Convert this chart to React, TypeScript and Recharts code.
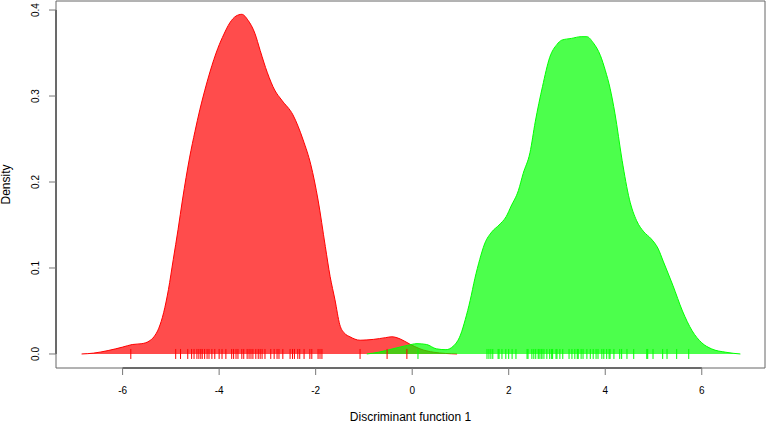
import React from "react";
import {
  ComposedChart,
  Area,
  Scatter,
  XAxis,
  YAxis,
  ReferenceArea,
  ReferenceLine,
} from "recharts";

// density estimate of group 1 (red)
const redX = [
  -6.85, -6.6, -6.3, -6.0, -5.8, -5.6, -5.45, -5.35, -5.25, -5.15, -5.05, -4.95,
  -4.85, -4.76, -4.61, -4.5, -4.4, -4.3, -4.19, -4.03, -3.9, -3.78, -3.65, -3.53,
  -3.4, -3.26, -3.15, -3.0, -2.85, -2.7, -2.47, -2.26, -2.1, -1.95, -1.8, -1.7,
  -1.6, -1.5, -1.4, -1.29, -1.08, -0.8, -0.55, -0.42, -0.25, -0.05, 0.16, 0.45, 0.93,
];
const redY = [
  0, 0.001, 0.004, 0.008, 0.011, 0.012, 0.015, 0.02, 0.03, 0.048, 0.075, 0.11,
  0.145, 0.179, 0.229, 0.259, 0.284, 0.306, 0.328, 0.355, 0.372, 0.385, 0.393, 0.395,
  0.388, 0.373, 0.353, 0.327, 0.307, 0.295, 0.278, 0.249, 0.22, 0.179, 0.125, 0.09,
  0.063, 0.034, 0.024, 0.02, 0.016, 0.017, 0.019, 0.02, 0.0175, 0.0115, 0.006, 0.002, 0,
];

// density estimate of group 2 (green)
const greenX = [
  -0.94, -0.7, -0.4, -0.1, 0.1, 0.3, 0.5, 0.7, 0.85, 1.0, 1.1, 1.2, 1.3, 1.4, 1.5,
  1.65, 1.8, 1.95, 2.05, 2.2, 2.3, 2.44, 2.55, 2.7, 2.85, 3.0, 3.1, 3.3, 3.5, 3.62,
  3.75, 3.9, 4.0, 4.1, 4.2, 4.35, 4.5, 4.65, 4.8, 4.95, 5.1, 5.2, 5.4, 5.6, 5.8,
  6.0, 6.2, 6.5, 6.8,
];
const greenY = [
  0, 0.002, 0.006, 0.01, 0.012, 0.011, 0.006, 0.005, 0.009, 0.022, 0.04, 0.062,
  0.088, 0.11, 0.128, 0.142, 0.15, 0.16, 0.172, 0.19, 0.21, 0.234, 0.27, 0.311,
  0.345, 0.36, 0.365, 0.367, 0.369, 0.369, 0.362, 0.347, 0.33, 0.309, 0.28, 0.225,
  0.18, 0.155, 0.142, 0.134, 0.122, 0.108, 0.08, 0.05, 0.027, 0.013, 0.006, 0.002, 0,
];

// rug: individual observations
const redRug = [
  -5.83, -4.9, -4.8, -4.65, -4.57, -4.52, -4.46, -4.42, -4.38, -4.35, -4.3, -4.25,
  -4.21, -4.15, -4.09, -4.0, -3.94, -3.86, -3.74, -3.7, -3.65, -3.61, -3.53, -3.49,
  -3.42, -3.38, -3.34, -3.3, -3.24, -3.19, -3.15, -3.11, -3.05, -2.93, -2.86, -2.8,
  -2.76, -2.68, -2.53, -2.48, -2.44, -2.37, -2.33, -2.24, -2.12, -2.08, -1.95,
  -1.91, -1.87, -1.08, -0.52, -0.11,
];
const greenRug = [
  0.12, 1.55, 1.59, 1.63, 1.67, 1.78, 1.8, 1.86, 1.94, 2.0, 2.07, 2.15, 2.38, 2.4,
  2.48, 2.52, 2.56, 2.61, 2.63, 2.67, 2.69, 2.73, 2.79, 2.85, 2.89, 2.91, 2.98, 3.0,
  3.06, 3.12, 3.25, 3.31, 3.37, 3.42, 3.44, 3.5, 3.54, 3.62, 3.69, 3.75, 3.81, 3.85,
  3.93, 3.97, 4.03, 4.08, 4.1, 4.18, 4.3, 4.34, 4.45, 4.59, 4.86, 4.88, 4.99, 5.19,
  5.28, 5.48, 5.73,
];

const xTicks = [-6, -4, -2, 0, 2, 4, 6];
const yTicks = [0, 0.1, 0.2, 0.3, 0.4];
const xDomain = [-7.38, 7.31];
const yDomain = [-0.0163, 0.4105];

const redData = redX.map((x, i) => ({ x, y: redY[i] }));
const greenData = greenX.map((x, i) => ({ x, y: greenY[i] }));
const redRugData = redRug.map((x) => ({ x, y: 0 }));
const greenRugData = greenRug.map((x) => ({ x, y: 0 }));

const font = "'Liberation Sans', Arial, sans-serif";

const rugShape = (color: string) => (p: any) =>
  <line x1={p.cx} x2={p.cx} y1={p.cy - 5} y2={p.cy + 5} stroke={color} strokeWidth={1} />;

const YTick = (props: any) => {
  const { x, y, payload } = props;
  return (
    <text
      x={x}
      y={y}
      transform={`rotate(-90, ${x}, ${y})`}
      textAnchor="middle"
      fontSize={10}
      fontFamily={font}
      fill="#000"
    >
      {payload.value.toFixed(1)}
    </text>
  );
};

export default function App() {
  return (
    <div style={{ position: "absolute", left: 0, top: 0, background: "#fff" }}>
      <ComposedChart
        width={767}
        height={423}
        margin={{ top: 1, right: 2, bottom: 0, left: 0 }}
      >
        <XAxis
          type="number"
          dataKey="x"
          domain={xDomain}
          allowDataOverflow
          ticks={xTicks}
          interval={0}
          height={55}
          axisLine={false}
          tickSize={7}
          tickMargin={12}
          tickLine={{ stroke: "#777" }}
          tick={{ fontSize: 10, fontFamily: font, fill: "#000" }}
          label={{
            content: (p: any) => (
              <text
                x={p.viewBox.x + p.viewBox.width / 2}
                y={421}
                textAnchor="middle"
                fontSize={12}
                fontFamily={font}
                fill="#000"
              >
                Discriminant function 1
              </text>
            ),
          }}
        />
        <YAxis
          type="number"
          dataKey="y"
          domain={yDomain}
          allowDataOverflow
          ticks={yTicks}
          interval={0}
          width={56}
          axisLine={false}
          tickSize={7}
          tickMargin={10}
          tickLine={{ stroke: "#777" }}
          tick={<YTick />}
          label={{
            content: (p: any) => {
              const cx = 10;
              const cy = p.viewBox.y + p.viewBox.height / 2;
              return (
                <text
                  x={cx}
                  y={cy}
                  transform={`rotate(-90, ${cx}, ${cy})`}
                  textAnchor="middle"
                  fontSize={12}
                  fontFamily={font}
                  fill="#000"
                >
                  Density
                </text>
              );
            },
          }}
        />
        <Area
          data={redData}
          dataKey="y"
          type="monotone"
          stroke="#ff0000"
          strokeWidth={1}
          fill="#ff0000"
          fillOpacity={0.7}
          dot={false}
          activeDot={false}
          isAnimationActive={false}
        />
        <Area
          data={greenData}
          dataKey="y"
          type="monotone"
          stroke="#00ff00"
          strokeWidth={1}
          fill="#00ff00"
          fillOpacity={0.7}
          dot={false}
          activeDot={false}
          isAnimationActive={false}
        />
        <Scatter
          data={redRugData}
          dataKey="y"
          shape={rugShape("#ff0000")}
          isAnimationActive={false}
        />
        <Scatter
          data={greenRugData}
          dataKey="y"
          shape={rugShape("#00ff00")}
          isAnimationActive={false}
        />
        <ReferenceArea
          x1={xDomain[0]}
          x2={xDomain[1]}
          y1={yDomain[0]}
          y2={yDomain[1]}
          fill="none"
          stroke="#666"
          strokeWidth={1}
        />
        <ReferenceLine
          segment={[{ x: -6, y: yDomain[0] }, { x: 6, y: yDomain[0] }]}
          stroke="#222"
        />
        <ReferenceLine
          segment={[{ x: xDomain[0], y: 0 }, { x: xDomain[0], y: 0.4 }]}
          stroke="#222"
        />
      </ComposedChart>
    </div>
  );
}
